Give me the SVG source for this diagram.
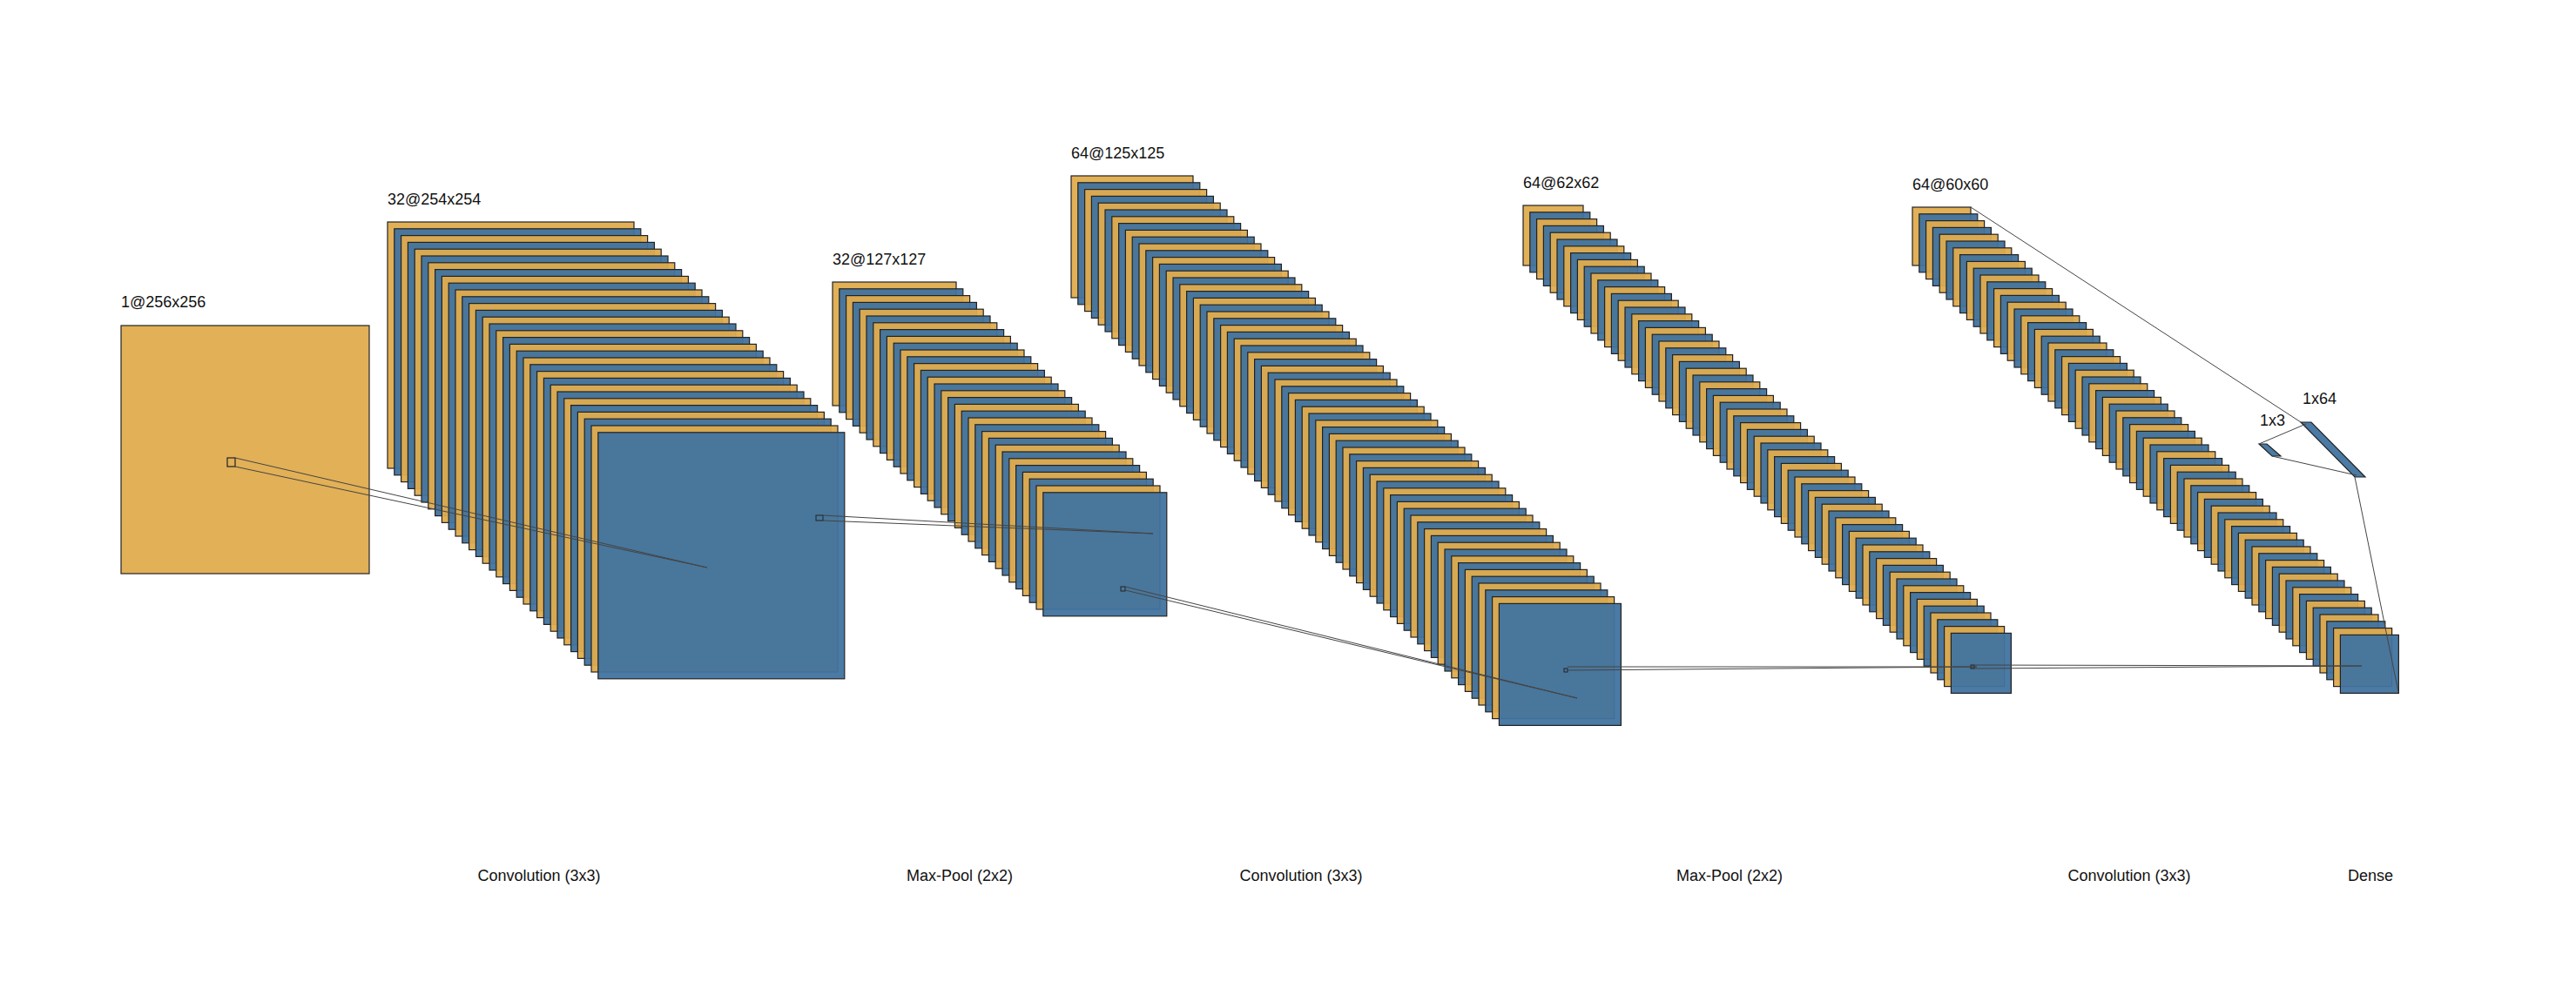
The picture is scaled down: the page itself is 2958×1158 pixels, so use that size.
<svg xmlns="http://www.w3.org/2000/svg" xmlns:xlink="http://www.w3.org/1999/xlink" width="2958" height="1158" viewBox="0 0 2958 1158">
<style>
.o{fill:#dfac4e;stroke:#222;stroke-width:1.2;fill-opacity:0.95}
.b{fill:#41739f;stroke:#222;stroke-width:1.2;fill-opacity:0.95}
.t{font-family:"Liberation Sans",Arial,sans-serif;font-size:18px;fill:#111}
.c{fill:none;stroke:#444;stroke-width:1}
</style>
<defs>
<g id="p2"><rect class="o" width="283" height="283"/><rect class="b" x="7.8" y="7.8" width="283" height="283"/></g>
<g id="p3"><rect class="o" width="142" height="142"/><rect class="b" x="7.8" y="7.8" width="142" height="142"/></g>
<g id="p4"><rect class="o" width="140" height="140"/><rect class="b" x="7.8" y="7.8" width="140" height="140"/></g>
<g id="p5"><rect class="o" width="69" height="69"/><rect class="b" x="7.8" y="7.8" width="69" height="69"/></g>
<g id="p6"><rect class="o" width="67" height="67"/><rect class="b" x="7.8" y="7.8" width="67" height="67"/></g>
</defs>
<rect width="2958" height="1158" fill="#fff"/>
<g id="input">
<rect class="o" x="139" y="374" width="285" height="285" fill-opacity="1"/>
<rect x="261" y="526" width="9" height="10" fill="none" stroke="#222" stroke-width="1.2"/>
<text class="t" x="139" y="353">1@256x256</text>
</g>
<g id="conv1" transform="translate(445,255)">
<use href="#p2"/><use href="#p2" x="15.6" y="15.6"/><use href="#p2" x="31.2" y="31.2"/><use href="#p2" x="46.8" y="46.8"/><use href="#p2" x="62.4" y="62.4"/><use href="#p2" x="78" y="78"/><use href="#p2" x="93.6" y="93.6"/><use href="#p2" x="109.2" y="109.2"/><use href="#p2" x="124.8" y="124.8"/><use href="#p2" x="140.4" y="140.4"/><use href="#p2" x="156" y="156"/><use href="#p2" x="171.6" y="171.6"/><use href="#p2" x="187.2" y="187.2"/><use href="#p2" x="202.8" y="202.8"/><use href="#p2" x="218.4" y="218.4"/><use href="#p2" x="234" y="234"/>
<rect x="492" y="337" width="8" height="6" fill="none" stroke="#222"/>
<text class="t" x="0" y="-20">32@254x254</text>
</g>
<g id="pool1" transform="translate(956,324)">
<use href="#p3"/><use href="#p3" x="15.6" y="15.6"/><use href="#p3" x="31.2" y="31.2"/><use href="#p3" x="46.8" y="46.8"/><use href="#p3" x="62.4" y="62.4"/><use href="#p3" x="78" y="78"/><use href="#p3" x="93.6" y="93.6"/><use href="#p3" x="109.2" y="109.2"/><use href="#p3" x="124.8" y="124.8"/><use href="#p3" x="140.4" y="140.4"/><use href="#p3" x="156" y="156"/><use href="#p3" x="171.6" y="171.6"/><use href="#p3" x="187.2" y="187.2"/><use href="#p3" x="202.8" y="202.8"/><use href="#p3" x="218.4" y="218.4"/><use href="#p3" x="234" y="234"/>
<rect x="331" y="350" width="5" height="5" fill="none" stroke="#222"/>
<text class="t" x="0" y="-20">32@127x127</text>
</g>
<g id="conv2" transform="translate(1230,202)">
<use href="#p4"/><use href="#p4" x="15.6" y="15.6"/><use href="#p4" x="31.2" y="31.2"/><use href="#p4" x="46.8" y="46.8"/><use href="#p4" x="62.4" y="62.4"/><use href="#p4" x="78" y="78"/><use href="#p4" x="93.6" y="93.6"/><use href="#p4" x="109.2" y="109.2"/><use href="#p4" x="124.8" y="124.8"/><use href="#p4" x="140.4" y="140.4"/><use href="#p4" x="156" y="156"/><use href="#p4" x="171.6" y="171.6"/><use href="#p4" x="187.2" y="187.2"/><use href="#p4" x="202.8" y="202.8"/><use href="#p4" x="218.4" y="218.4"/><use href="#p4" x="234" y="234"/><use href="#p4" x="249.6" y="249.6"/><use href="#p4" x="265.2" y="265.2"/><use href="#p4" x="280.8" y="280.8"/><use href="#p4" x="296.4" y="296.4"/><use href="#p4" x="312" y="312"/><use href="#p4" x="327.6" y="327.6"/><use href="#p4" x="343.2" y="343.2"/><use href="#p4" x="358.8" y="358.8"/><use href="#p4" x="374.4" y="374.4"/><use href="#p4" x="390" y="390"/><use href="#p4" x="405.6" y="405.6"/><use href="#p4" x="421.2" y="421.2"/><use href="#p4" x="436.8" y="436.8"/><use href="#p4" x="452.4" y="452.4"/><use href="#p4" x="468" y="468"/><use href="#p4" x="483.6" y="483.6"/>
<rect x="566" y="566" width="4" height="4" fill="none" stroke="#222"/>
<text class="t" x="0" y="-20">64@125x125</text>
</g>
<g id="pool2" transform="translate(1749,236)">
<use href="#p5"/><use href="#p5" x="15.6" y="15.6"/><use href="#p5" x="31.2" y="31.2"/><use href="#p5" x="46.8" y="46.8"/><use href="#p5" x="62.4" y="62.4"/><use href="#p5" x="78" y="78"/><use href="#p5" x="93.6" y="93.6"/><use href="#p5" x="109.2" y="109.2"/><use href="#p5" x="124.8" y="124.8"/><use href="#p5" x="140.4" y="140.4"/><use href="#p5" x="156" y="156"/><use href="#p5" x="171.6" y="171.6"/><use href="#p5" x="187.2" y="187.2"/><use href="#p5" x="202.8" y="202.8"/><use href="#p5" x="218.4" y="218.4"/><use href="#p5" x="234" y="234"/><use href="#p5" x="249.6" y="249.6"/><use href="#p5" x="265.2" y="265.2"/><use href="#p5" x="280.8" y="280.8"/><use href="#p5" x="296.4" y="296.4"/><use href="#p5" x="312" y="312"/><use href="#p5" x="327.6" y="327.6"/><use href="#p5" x="343.2" y="343.2"/><use href="#p5" x="358.8" y="358.8"/><use href="#p5" x="374.4" y="374.4"/><use href="#p5" x="390" y="390"/><use href="#p5" x="405.6" y="405.6"/><use href="#p5" x="421.2" y="421.2"/><use href="#p5" x="436.8" y="436.8"/><use href="#p5" x="452.4" y="452.4"/><use href="#p5" x="468" y="468"/><use href="#p5" x="483.6" y="483.6"/>
<rect x="514" y="528" width="4" height="4" fill="none" stroke="#222"/>
<text class="t" x="0" y="-20">64@62x62</text>
</g>
<g id="conv3" transform="translate(2196,238)">
<use href="#p6"/><use href="#p6" x="15.6" y="15.6"/><use href="#p6" x="31.2" y="31.2"/><use href="#p6" x="46.8" y="46.8"/><use href="#p6" x="62.4" y="62.4"/><use href="#p6" x="78" y="78"/><use href="#p6" x="93.6" y="93.6"/><use href="#p6" x="109.2" y="109.2"/><use href="#p6" x="124.8" y="124.8"/><use href="#p6" x="140.4" y="140.4"/><use href="#p6" x="156" y="156"/><use href="#p6" x="171.6" y="171.6"/><use href="#p6" x="187.2" y="187.2"/><use href="#p6" x="202.8" y="202.8"/><use href="#p6" x="218.4" y="218.4"/><use href="#p6" x="234" y="234"/><use href="#p6" x="249.6" y="249.6"/><use href="#p6" x="265.2" y="265.2"/><use href="#p6" x="280.8" y="280.8"/><use href="#p6" x="296.4" y="296.4"/><use href="#p6" x="312" y="312"/><use href="#p6" x="327.6" y="327.6"/><use href="#p6" x="343.2" y="343.2"/><use href="#p6" x="358.8" y="358.8"/><use href="#p6" x="374.4" y="374.4"/><use href="#p6" x="390" y="390"/><use href="#p6" x="405.6" y="405.6"/><use href="#p6" x="421.2" y="421.2"/><use href="#p6" x="436.8" y="436.8"/><use href="#p6" x="452.4" y="452.4"/><use href="#p6" x="468" y="468"/><use href="#p6" x="483.6" y="483.6"/>
<text class="t" x="0" y="-20">64@60x60</text>
</g>
<g id="dense3">
<polygon class="b" points="2594,510 2603,510 2619,524 2609,524"/>
<text class="t" x="2595" y="489">1x3</text>
</g>
<g id="dense64">
<polygon class="b" points="2642,485 2654,485 2716,548 2704,548"/>
<text class="t" x="2644" y="464">1x64</text>
</g>
<g id="connectors">
<path class="c" d="M270,526 L812,652 M270,536 L812,652"/>
<path class="c" d="M945,592 L1324,613 M945,598 L1324,613"/>
<path class="c" d="M1292,674 L1811,802 M1292,678 L1811,802"/>
<path class="c" d="M1800,766 L2270,766 M1800,770 L2270,766"/>
<path class="c" d="M2267,764 L2712,765 M2267,768 L2712,765"/>
<path class="c" d="M2263,238 L2642,485 M2754,795 L2704,548"/>
<path class="c" d="M2594,510 L2648,487 M2609,524 L2706,546"/>
</g>
<g id="labels">
<text class="t" x="619" y="1012" text-anchor="middle">Convolution (3x3)</text>
<text class="t" x="1102" y="1012" text-anchor="middle">Max-Pool (2x2)</text>
<text class="t" x="1494" y="1012" text-anchor="middle">Convolution (3x3)</text>
<text class="t" x="1986" y="1012" text-anchor="middle">Max-Pool (2x2)</text>
<text class="t" x="2445" y="1012" text-anchor="middle">Convolution (3x3)</text>
<text class="t" x="2722" y="1012" text-anchor="middle">Dense</text>
</g>
</svg>
